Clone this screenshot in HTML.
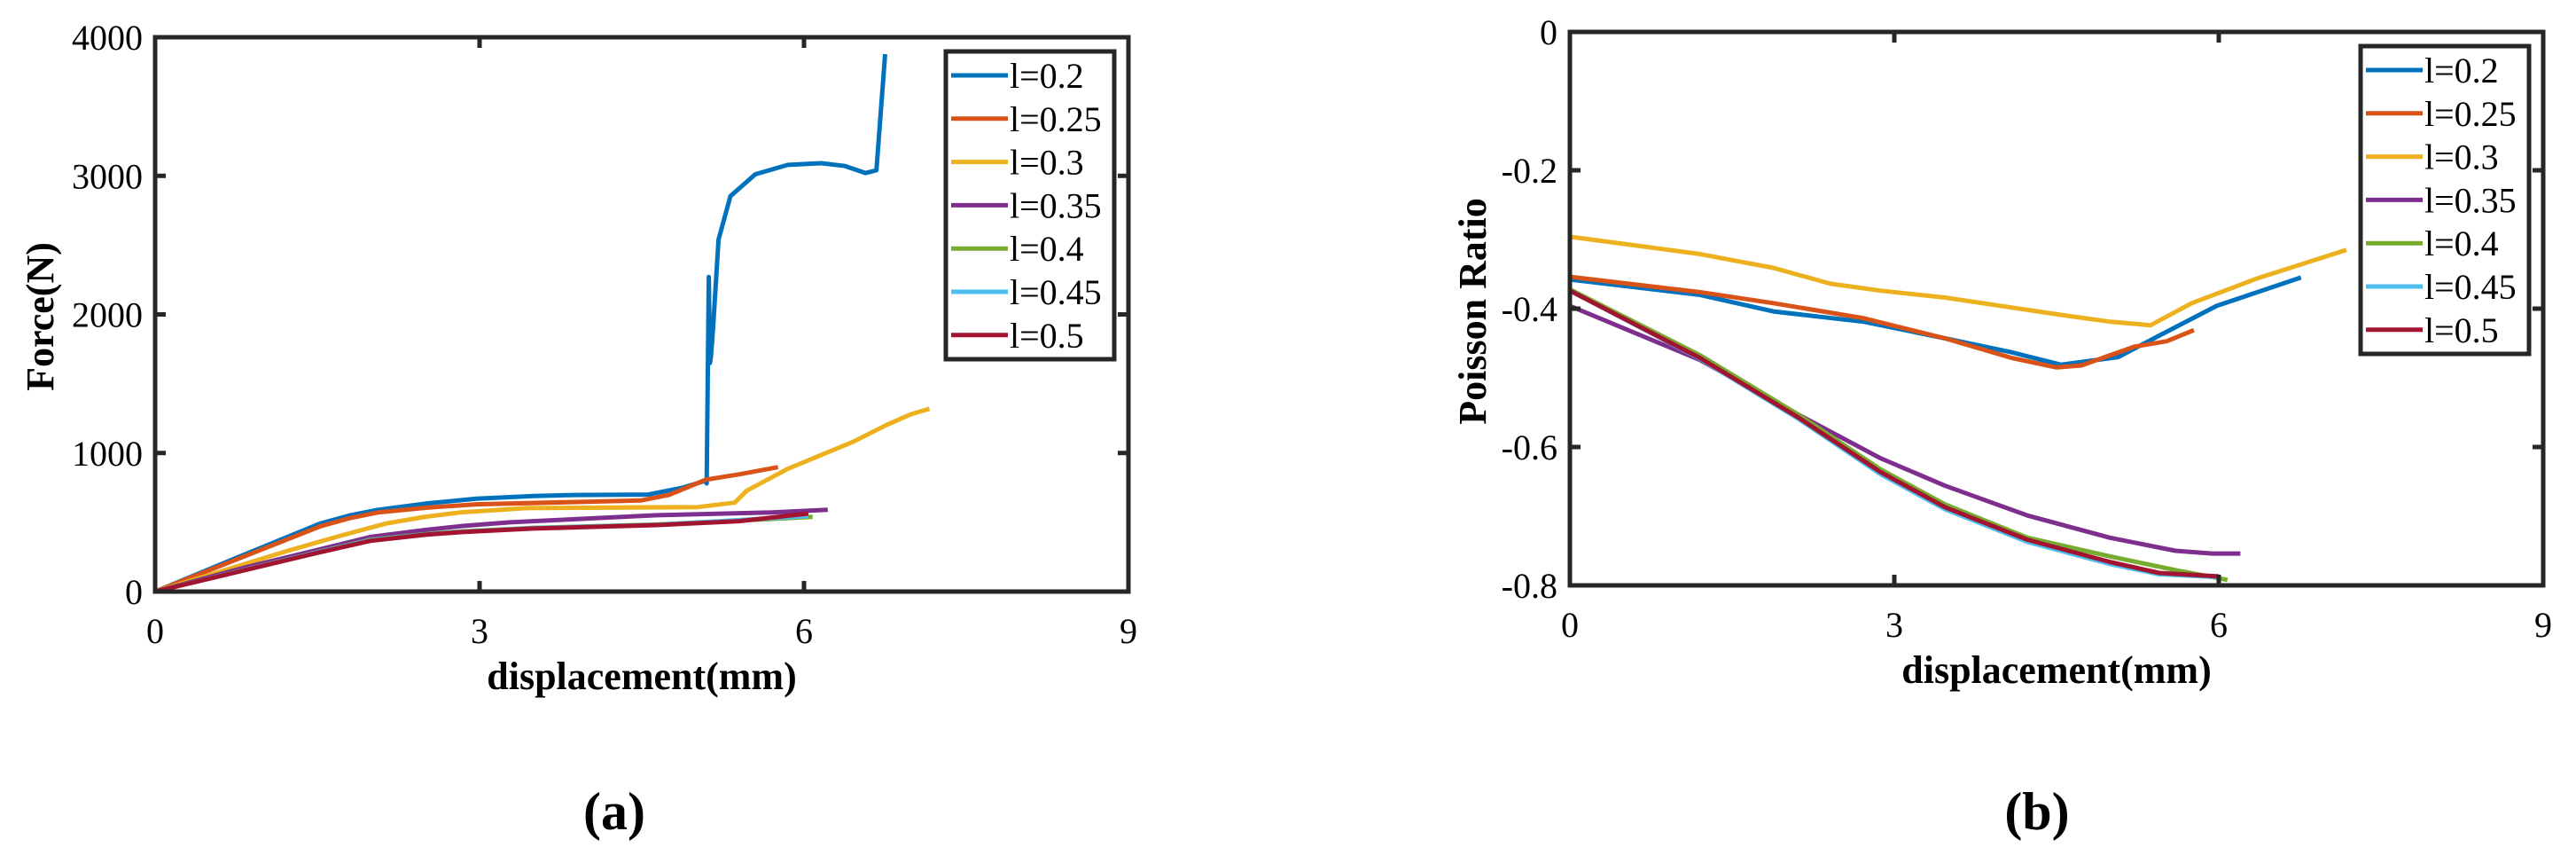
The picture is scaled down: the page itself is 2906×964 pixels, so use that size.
<!DOCTYPE html>
<html><head><meta charset="utf-8"><style>
html,body{margin:0;padding:0;background:#fff;}
svg{display:block;}
text{font-family:"Liberation Serif",serif;fill:#000;}
</style></head><body>
<svg id="fig" width="2906" height="964" viewBox="0 0 2906 964" xmlns="http://www.w3.org/2000/svg"></svg>
<script>
const seriesNames = ["l=0.2","l=0.25","l=0.3","l=0.35","l=0.4","l=0.45","l=0.5"];
const seriesColors = ["#0072BD","#D95319","#EDB120","#7E2F8E","#77AC30","#4DBEEE","#A2142F"];
const xTicks = [0,3,6,9];
const forceTicks = [0,1000,2000,3000,4000];
const poissonTicks = [0,-0.2,-0.4,-0.6,-0.8];
const poissonTickLabels = ["0","-0.2","-0.4","-0.6","-0.8"];

// Force (a) data: x displacement, y force
const fA_x0 = [0,0.85,1.53,1.8,2.06,2.5,2.97,3.5,3.88,4.56,4.87,5.09,5.10,5.12,5.13,5.14,5.16,5.21,5.32,5.55,5.85,6.16,6.38,6.57,6.67,6.75];
const fA_y0 = [0,275,492,550,590,635,670,690,697,700,748,800,780,2270,1650,1700,1910,2540,2854,3011,3079,3091,3071,3020,3040,3878];
const fA_x1 = [0,1.53,1.8,2.06,2.5,2.97,4.49,4.75,5.09,5.40,5.76];
const fA_y1 = [0,472,530,571,605,630,657,697,807,846,898];
const fA_x2 = [0,1.23,1.7,2.14,2.5,2.82,3.43,5.02,5.36,5.47,5.85,6.46,6.76,6.99,7.16];
const fA_y2 = [0,295,400,492,540,571,602,610,642,728,886,1083,1201,1280,1319];
const fA_x3 = [0,0.85,1.5,1.99,2.5,2.82,3.28,4.64,5.70,6.22];
const fA_y3 = [0,177,300,394,445,472,500,551,571,591];
const fA_x4 = [0,1.5,1.99,2.5,2.82,3.5,4.64,6.08];
const fA_y4 = [0,285,374,415,433,460,484,539];
const fA_x5 = [0,1.5,1.99,2.5,2.82,3.5,4.64,6.04];
const fA_y5 = [0,283,370,412,431,458,482,545];
const fA_x6 = [0,1.5,1.99,2.5,2.82,3.5,4.64,5.40,6.04];
const fA_y6 = [0,280,366,410,429,455,480,508,563];

// Poisson (b) data
const pB_x0 = [0,0,1.2,1.88,2.72,3.47,4.08,4.54,5.07,5.45,5.98,6.76];
const pB_y0 = [0,-0.358,-0.380,-0.404,-0.419,-0.443,-0.463,-0.481,-0.470,-0.439,-0.396,-0.355];
const pB_x1 = [0,0,1.2,1.88,2.72,3.47,4.08,4.5,4.73,5.22,5.52,5.77];
const pB_y1 = [0,-0.354,-0.376,-0.392,-0.414,-0.443,-0.471,-0.485,-0.482,-0.455,-0.447,-0.431];
const pB_x2 = [0,0,1.2,1.88,2.41,2.87,3.47,4.54,5.0,5.37,5.75,6.36,7.18];
const pB_y2 = [0,-0.296,-0.321,-0.341,-0.364,-0.374,-0.384,-0.409,-0.419,-0.424,-0.392,-0.356,-0.315];
const pB_x3 = [0,0,1.2,2.11,2.87,3.47,4.23,4.99,5.6,5.94,6.2];
const pB_y3 = [0,-0.396,-0.474,-0.553,-0.616,-0.656,-0.699,-0.731,-0.750,-0.754,-0.754];
const pB_x4 = [0,0,1.2,2.11,2.87,3.47,4.23,4.99,5.6,6.08];
const pB_y4 = [0,-0.372,-0.467,-0.553,-0.632,-0.683,-0.731,-0.758,-0.778,-0.792];
const pB_x5 = [0,0,1.2,2.11,2.87,3.47,4.23,4.99,5.45,6.0];
const pB_y5 = [0,-0.374,-0.472,-0.559,-0.639,-0.690,-0.737,-0.769,-0.784,-0.788];
const pB_x6 = [0,0,1.2,2.11,2.87,3.47,4.23,4.99,5.45,6.0];
const pB_y6 = [0,-0.374,-0.471,-0.557,-0.636,-0.687,-0.734,-0.766,-0.782,-0.787];

const svg = document.getElementById('fig');
const NS = "http://www.w3.org/2000/svg";
function mk(tag, attrs, parent){ const e=document.createElementNS(NS,tag); for(const k in attrs) e.setAttribute(k,attrs[k]); (parent||svg).appendChild(e); return e; }

function drawPanel(p){
  const g = mk('g',{});
  
  
  const sx = v => p.L + (v - p.xmin)/(p.xmax-p.xmin)*(p.R-p.L);
  const sy = v => p.B - (v - p.ymin)/(p.ymax-p.ymin)*(p.B-p.T);
  p.xs.forEach((xs,i)=>{
    const ys = p.ys[i];
    const d = xs.map((x,j)=>(j?'L':'M')+sx(x).toFixed(1)+','+sy(ys[j]).toFixed(1)).join(' ');
    const path = mk('path',{d:d,fill:'none',stroke:seriesColors[i],'stroke-width':5,'stroke-linejoin':'round'},g);
    
    
  });
  const box = mk('rect',{x:p.L,y:p.T,width:p.R-p.L,height:p.B-p.T,fill:'none',stroke:'#262626','stroke-width':5},g);
  
  
  xTicks.forEach(v=>{
    const x=sx(v);
    mk('line',{x1:x,y1:p.B,x2:x,y2:p.B-12,stroke:'#262626','stroke-width':5},g);
    mk('line',{x1:x,y1:p.T,x2:x,y2:p.T+12,stroke:'#262626','stroke-width':5},g);
    const t=mk('text',{x:x,y:p.B+58,'font-size':40,'text-anchor':'middle',fill:'#262626'},g);
    t.textContent=String(v);
    
    
  });
  p.yTicks.forEach((v,i)=>{
    const y=sy(v);
    mk('line',{x1:p.L,y1:y,x2:p.L+12,y2:y,stroke:'#262626','stroke-width':5},g);
    mk('line',{x1:p.R,y1:y,x2:p.R-12,y2:y,stroke:'#262626','stroke-width':5},g);
    const t=mk('text',{x:p.L-14,y:y+14,'font-size':40,'text-anchor':'end',fill:'#262626'},g);
    t.textContent=p.yLabels[i];
    
    
  });
  const xt=mk('text',{x:(p.L+p.R)/2,y:p.B+110,'font-size':44,'font-weight':'bold','text-anchor':'middle',fill:'#262626'},g);
  xt.textContent='displacement(mm)';
  
  
  const yt=mk('text',{x:0,y:0,'font-size':44,'font-weight':'bold','text-anchor':'middle',fill:'#262626',transform:'translate('+p.ytX+','+p.ytY+') rotate(-90)'},g);
  yt.textContent=p.yTitle;
  
  
  const lg=mk('g',{},g);
  
  
  const lx=p.R-16-190, ly=p.T+16;
  mk('rect',{x:lx,y:ly,width:190,height:347,fill:'#fff',stroke:'#262626','stroke-width':5},lg);
  seriesNames.forEach((n,i)=>{
    const y=ly+27+i*48.8;
    const e=mk('g',{},lg);
    
    
    mk('line',{x1:lx+6,y1:y,x2:lx+70,y2:y,stroke:seriesColors[i],'stroke-width':5},e);
    const t=mk('text',{x:lx+72,y:y+14,'font-size':40,fill:'#000'},e);
    t.textContent=n;
  });
  const pl=mk('text',{x:p.labX,y:935,'font-size':60,'font-weight':'bold','text-anchor':'middle',fill:'#000'},g);
  pl.textContent=p.panelLabel;
  
  
}

drawPanel({name:'force-chart',L:175,R:1273,T:42,B:667,xmin:0,xmax:9,ymin:0,ymax:4000,
  xs:[fA_x0,fA_x1,fA_x2,fA_x3,fA_x4,fA_x5,fA_x6],ys:[fA_y0,fA_y1,fA_y2,fA_y3,fA_y4,fA_y5,fA_y6],
  yTicks:forceTicks,yLabels:forceTicks.map(String),yTitle:'Force(N)',ytX:60,ytY:357,panelLabel:'(a)',labX:693});
drawPanel({name:'poisson-chart',L:1771,R:2869,T:36,B:660,xmin:0,xmax:9,ymin:-0.8,ymax:0,
  xs:[pB_x0,pB_x1,pB_x2,pB_x3,pB_x4,pB_x5,pB_x6],ys:[pB_y0,pB_y1,pB_y2,pB_y3,pB_y4,pB_y5,pB_y6],
  yTicks:poissonTicks,yLabels:poissonTickLabels,yTitle:'Poisson Ratio',ytX:1676,ytY:351,panelLabel:'(b)',labX:2298});
</script>
</body></html>
